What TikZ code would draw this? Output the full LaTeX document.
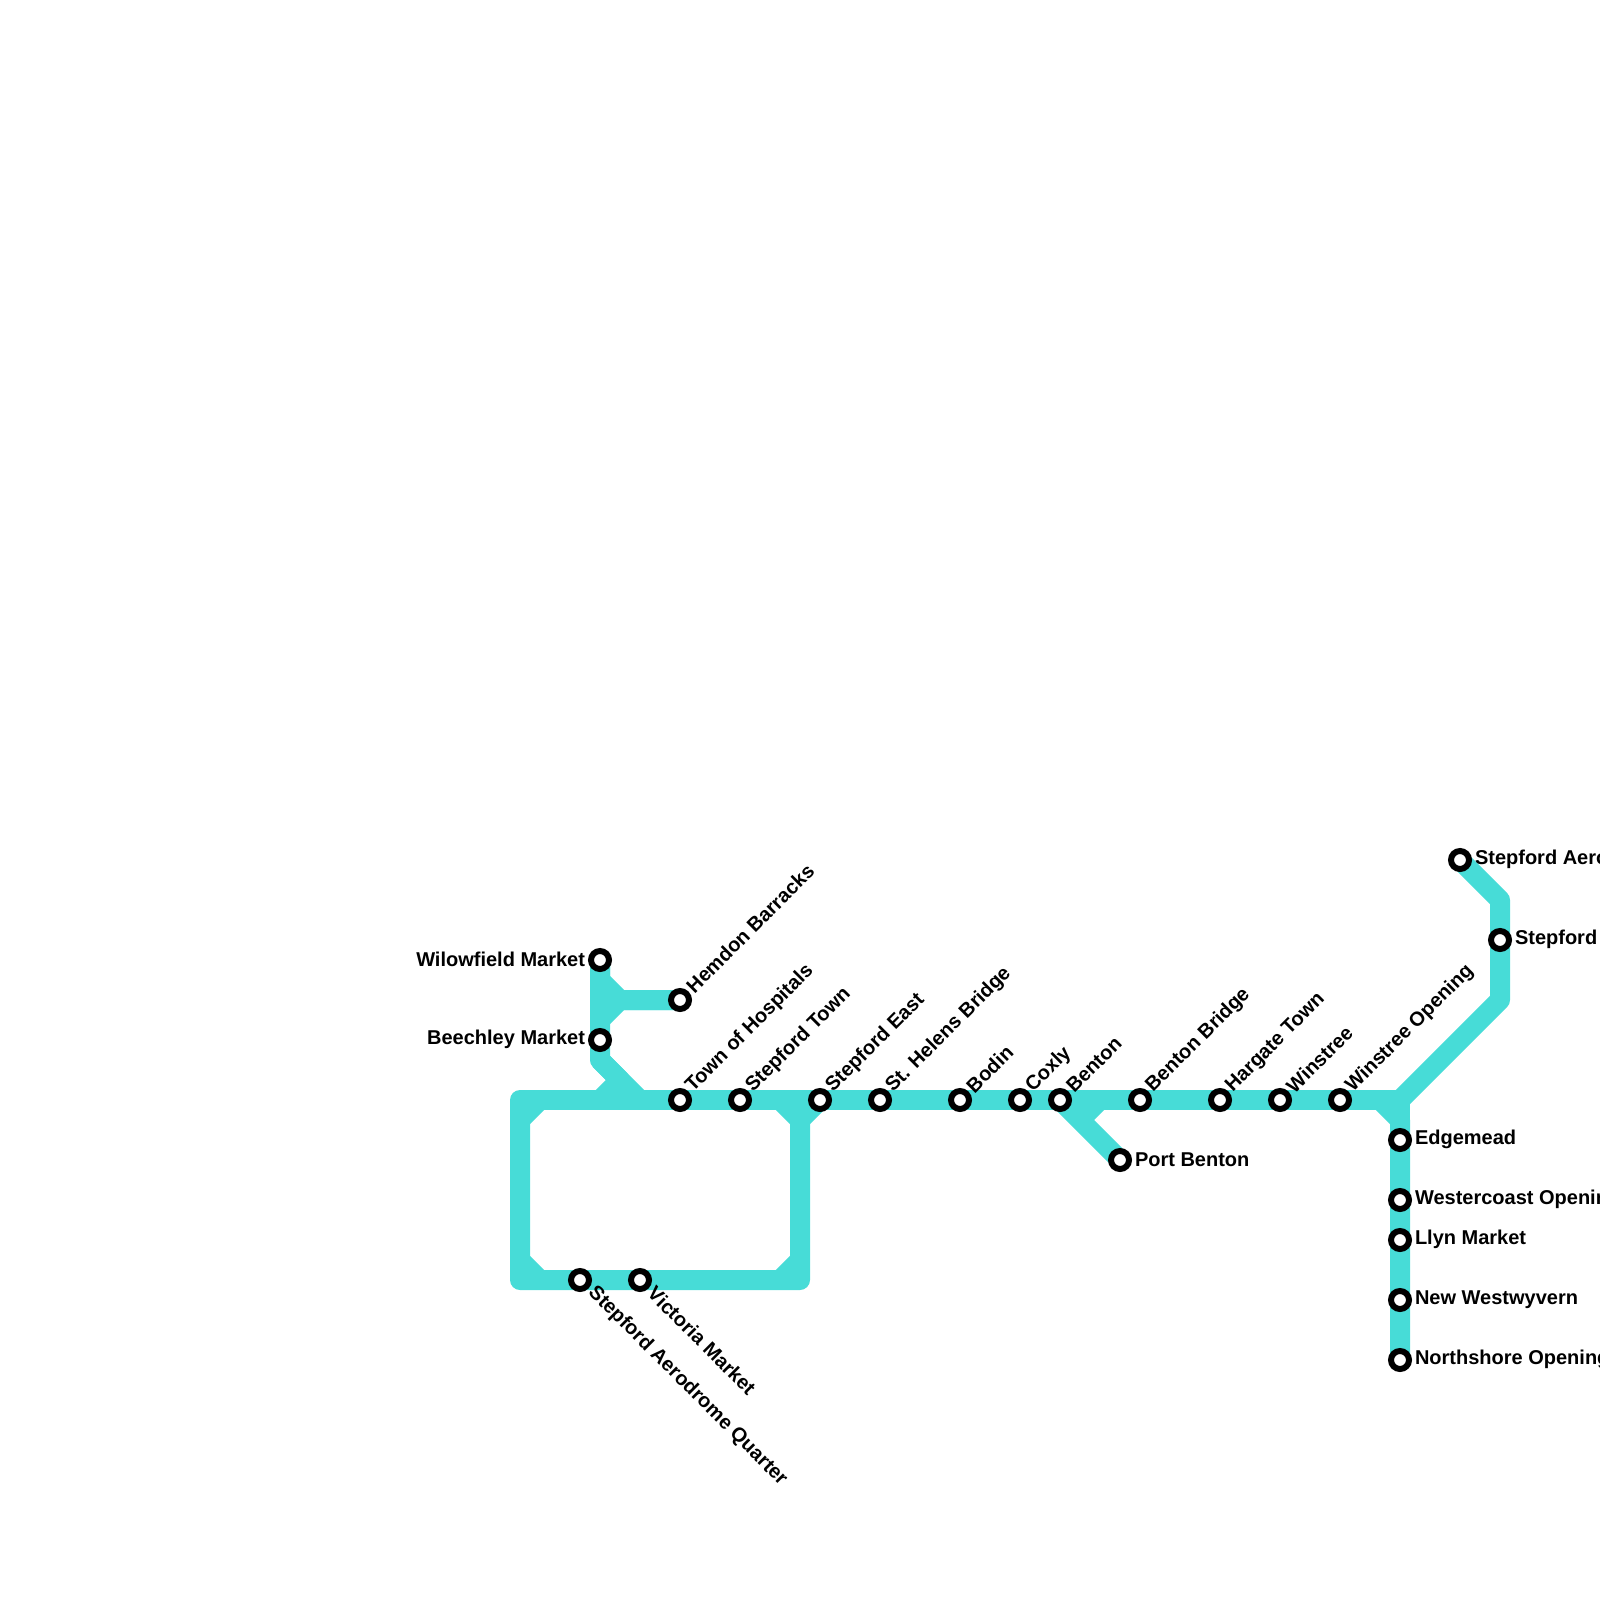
\documentclass[tikz,border=0pt]{standalone}
\usepackage{fontspec}
\setmainfont{Liberation Sans}
\usetikzlibrary{backgrounds}
\definecolor{lineturq}{HTML}{47DCD7}
\tikzset{
  stn/.style={circle, draw=black, fill=white, line width=6pt, minimum size=18pt, inner sep=0pt, outer sep=0pt},
  stnlabel/.style={font=\bfseries\fontsize{20}{23}\selectfont, text=black, inner sep=0pt, outer sep=0pt},
  railline/.style={draw=lineturq, line width=20pt, line join=round}
}
\begin{document}
\begin{tikzpicture}[x=1pt, y=-1pt]
  \useasboundingbox (0,0) rectangle (1600,1600);
  \clip (0,0) rectangle (1600,1600);

  % stations, label to the upper right
  \foreach \nm/\x/\y/\txt in {hemdon/680/1000/Hemdon Barracks, townhosp/680/1100/Town of Hospitals,
      stepftown/740/1100/Stepford Town, stepfeast/820/1100/Stepford East,
      sthelens/880/1100/St. Helens Bridge, bodin/960/1100/Bodin, coxly/1020/1100/Coxly,
      benton/1060/1100/Benton, bentonbr/1140/1100/Benton Bridge, hargate/1220/1100/Hargate Town,
      winstree/1280/1100/Winstree, winstreeop/1340/1100/Winstree Opening}
    \node[stn] (\nm) at (\x,\y) {} node[stnlabel, rotate=45, anchor=west, xshift=14.5pt, yshift=1pt] (\nm lab) at (\x,\y) {\txt};

  % stations, label to the right
  \foreach \nm/\x/\y/\txt in {aero/1460/860/Stepford Aero, stepford/1500/940/Stepford,
      portbenton/1120/1160/Port Benton, edgemead/1400/1140/Edgemead,
      westercoast/1400/1200/Westercoast Opening, llyn/1400/1240/Llyn Market,
      newwest/1400/1300/New Westwyvern, northshore/1400/1360/Northshore Opening}
    \node[stn] (\nm) at (\x,\y) {} node[stnlabel, anchor=west, xshift=15pt, yshift=0.5pt] (\nm lab) at (\x,\y) {\txt};

  % stations, label to the left
  \foreach \nm/\x/\y/\txt in {wilowfield/600/960/Wilowfield Market, beechley/600/1040/Beechley Market}
    \node[stn] (\nm) at (\x,\y) {} node[stnlabel, anchor=east, xshift=-15pt, yshift=1pt] (\nm lab) at (\x,\y) {\txt};

  % stations, label to the lower right
  \foreach \nm/\x/\y/\txt in {aeroquarter/580/1280/Stepford Aerodrome Quarter, victoria/640/1280/Victoria Market}
    \node[stn] (\nm) at (\x,\y) {} node[stnlabel, rotate=-45, anchor=west, xshift=15pt, yshift=1pt] (\nm lab) at (\x,\y) {\txt};

  % bends of the line
  \foreach \nm/\x/\y in {ba/600/980, bb/620/1000, bc/600/1020, bd/600/1060, be/640/1100, bf/620/1080, bg/600/1100,
      ca/520/1100, cb/540/1100, cc/520/1120, cd/520/1260, ce/520/1280, cf/540/1280,
      da/800/1280, db/780/1280, dc/800/1260, dd/800/1120, de/780/1100,
      ea/1080/1120, eb/1100/1100,
      fa/1400/1100, fb/1380/1100, fc/1400/1120, fd/1500/1000, fe/1500/900}
    \coordinate (\nm) at (\x,\y);

  \begin{scope}[on background layer]
    % upper branch
    \draw[railline] (wilowfield.center) -- (bd) -- (be);
    \draw[railline] (wilowfield.center) -- (ba) -- (bb) -- (hemdon.center);
    \draw[railline] (hemdon.center) -- (bb) -- (bc);
    \draw[railline] (bg) -- (bf) -- (bd);
    % main line with the loop
    \draw[railline] (cb) -- (ca) -- (ce) -- (da) -- (dd) -- (de);
    \draw[railline] (ca) -- (fa) -- (fc);
    \draw[railline] (cb) -- (cc);
    \draw[railline] (cd) -- (cf);
    \draw[railline] (db) -- (dc);
    \draw[railline] (dd) -- (stepfeast.center);
    \draw[railline] (fb) -- (fc) -- (northshore.center);
    % Port Benton spur
    \draw[railline] (benton.center) -- (portbenton.center);
    \draw[railline] (ea) -- (eb);
    % north end
    \draw[railline] (fa) -- (fd) -- (fe) -- (aero.center);
  \end{scope}
\end{tikzpicture}
\end{document}
